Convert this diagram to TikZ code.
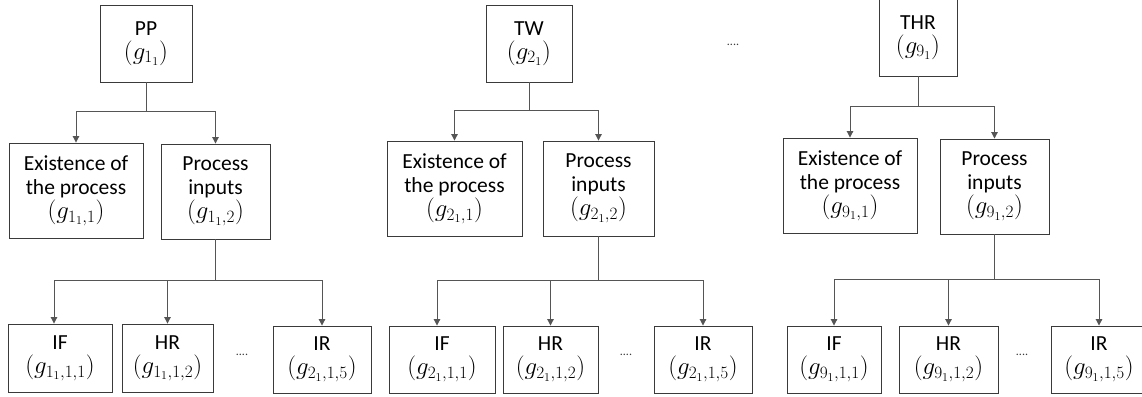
\documentclass[tikz,border=0pt]{standalone}
\usepackage{fontspec}
\setmainfont{Carlito}
\DeclareMathSizes{24.88}{24.88}{17.28}{12}
\newcommand{\gm}[1]{{\fontsize{24.88}{24}\selectfont$(g_{#1})$}}
\usetikzlibrary{arrows.meta}
\definecolor{boxc}{HTML}{3A3A3A}
\definecolor{linec}{HTML}{555555}
\tikzset{
  gbox/.style={draw=boxc, line width=0.9pt, align=center, inner sep=0pt,
    font=\fontsize{21.5}{24}\selectfont, text=black},
  conn/.style={draw=linec, line width=1pt},
  arr/.style={conn, -{Triangle[length=6.5pt,width=6.5pt]}},
  dots/.style={font=\fontsize{12}{14}\selectfont, text=boxc, inner sep=0pt}
}
\begin{document}
\begin{tikzpicture}[x=1pt,y=1pt]
\useasboundingbox (0,0) rectangle (1142,396);
% ---------- Tree 1 ----------
\node[gbox, minimum width=92pt, minimum height=77pt] (pp) at (146,352.5) {PP\\\gm{1_1}};
\node[gbox, minimum width=134pt, minimum height=95pt] (e1) at (76,205.5) {Existence of\\the process\\\gm{1_1,1}};
\node[gbox, minimum width=109pt, minimum height=95pt] (p1) at (215.5,204.5) {Process\\inputs\\\gm{1_1,2}};
\node[gbox, minimum width=104pt, minimum height=68pt] (if1) at (60,38) {IF\\\gm{1_1,1,1}};
\node[gbox, minimum width=91pt, minimum height=68pt] (hr1) at (167.5,38) {HR\\\gm{1_1,1,2}};
\node[gbox, minimum width=98pt, minimum height=67pt] (ir1) at (322,36.5) {IR\\\gm{2_1,1,5}};
\node[dots] (d1) at (242,41) {....};
\coordinate (j1) at (146,284);
\coordinate (k1) at (215.5,115);
\draw[conn] (pp.south) -- (j1);
\draw[arr] (j1) -| (e1.north);
\draw[arr] (j1) -| (p1.north);
\draw[conn] (p1.south) -- (k1);
\draw[arr] (k1) -| ([xshift=-6pt]if1.north);
\draw[arr] (k1) -| (hr1.north);
\draw[arr] (k1) -| (ir1.north);
% ---------- Tree 2 ----------
\node[gbox, minimum width=86pt, minimum height=77pt] (tw) at (529,352.5) {TW\\\gm{2_1}};
\node[gbox, minimum width=135pt, minimum height=95pt] (e2) at (454.5,207.5) {Existence of\\the process\\\gm{2_1,1}};
\node[gbox, minimum width=111pt, minimum height=95pt] (p2) at (598.5,207.5) {Process\\inputs\\\gm{2_1,2}};
\node[gbox, minimum width=106pt, minimum height=67pt] (if2) at (442,36.5) {IF\\\gm{2_1,1,1}};
\node[gbox, minimum width=95pt, minimum height=67pt] (hr2) at (550.5,36.5) {HR\\\gm{2_1,1,2}};
\node[gbox, minimum width=98pt, minimum height=67pt] (ir2) at (703,36.5) {IR\\\gm{2_1,1,5}};
\node[dots] (d2) at (626,41) {....};
\node[dots] (dtop) at (733,351) {....};
\coordinate (j2) at (529,285);
\coordinate (k2) at (598.5,115);
\draw[conn] (tw.south) -- (j2);
\draw[arr] (j2) -| (e2.north);
\draw[arr] (j2) -| (p2.north);
\draw[conn] (p2.south) -- (k2);
\draw[arr] (k2) -| ([xshift=-5pt]if2.north);
\draw[arr] (k2) -| (hr2.north);
\draw[arr] (k2) -| (ir2.north);
% ---------- Tree 3 ----------
\node[gbox, minimum width=78pt, minimum height=77pt] (thr) at (918,358.5) {THR\\\gm{9_1}};
\node[gbox, minimum width=134pt, minimum height=95pt] (e3) at (850,210.5) {Existence of\\the process\\\gm{9_1,1}};
\node[gbox, minimum width=109pt, minimum height=95pt] (p3) at (994.5,209.5) {Process\\inputs\\\gm{9_1,2}};
\node[gbox, minimum width=94pt, minimum height=67pt] (if3) at (834,36.5) {IF\\\gm{9_1,1,1}};
\node[gbox, minimum width=99pt, minimum height=67pt] (hr3) at (948.5,36.5) {HR\\\gm{9_1,1,2}};
\node[gbox, minimum width=96pt, minimum height=67pt] (ir3) at (1099,36.5) {IR\\\gm{9_1,1,5}};
\node[dots] (d3) at (1022,41) {....};
\coordinate (j3) at (918,289);
\coordinate (k3) at (994.5,116);
\draw[conn] (thr.south) -- (j3);
\draw[arr] (j3) -| (e3.north);
\draw[arr] (j3) -| (p3.north);
\draw[conn] (p3.south) -- (k3);
\draw[arr] (k3) -| (if3.north);
\draw[arr] (k3) -| (hr3.north);
\draw[arr] (k3) -| (ir3.north);
\end{tikzpicture}
\end{document}
